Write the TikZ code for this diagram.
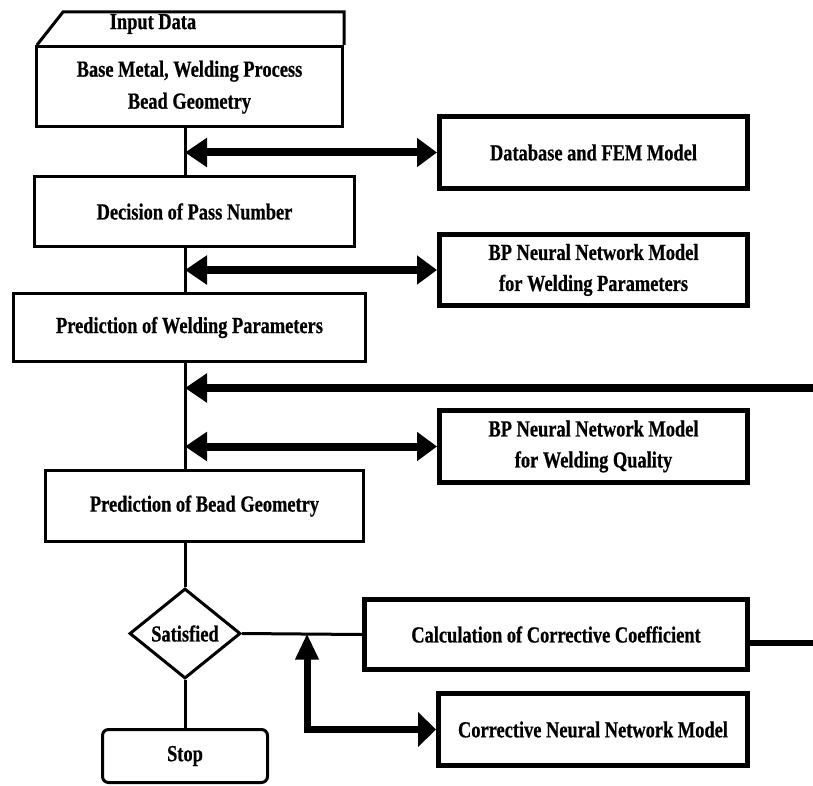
\documentclass[tikz,border=0pt]{standalone}
\usepackage{fontspec}
\setmainfont{Liberation Serif}[FakeStretch=0.8, BoldFeatures={FakeBold=0.6}]
\usetikzlibrary{shapes.geometric,arrows.meta}
\begin{document}
\begin{tikzpicture}[x=1pt,y=-1pt,
  txt/.style={font=\bfseries\fontsize{23}{31}\selectfont, align=center},
  flow/.style={draw, line width=3pt, rectangle, inner sep=0pt, txt},
  model/.style={draw, line width=5pt, rectangle, inner sep=0pt, txt},
  conn/.style={line width=3pt},
  dbl/.style={line width=8pt, {Triangle[length=22pt,width=28pt]}-{Triangle[length=20pt,width=28pt]}},
  fb/.style={line width=8pt, -{Triangle[length=22pt,width=28pt]}},
]
\useasboundingbox (0,0) rectangle (813,786);
\coordinate (spine) at (185,0);
\coordinate (fbR) at (813,388);
\coordinate (calcR) at (813,643);
\coordinate (junc) at (307,0);

% Input data card
\draw[line width=3pt, line join=miter] (37,45) -- (63,12) -- (344,12) -- (344,45);
\node[txt, inner sep=0pt] (inp) at (153,24) {Input Data};

% main flow
\node[flow, minimum width=306pt, minimum height=80pt] (base) at (189.5,86.5)
  {\raisebox{-4pt}{\begin{tabular}{@{}c@{}}Base Metal, Welding Process\\[1pt]Bead Geometry\end{tabular}}};
\node[flow, minimum width=320pt, minimum height=70pt] (dec) at (194.5,211.5) {Decision of Pass Number};
\node[flow, minimum width=352pt, minimum height=68pt] (pwp) at (189.5,327.5) {Prediction of Welding Parameters};
\node[flow, minimum width=318pt, minimum height=71pt] (pbg) at (204.5,506) {Prediction of Bead Geometry};
\node[draw, diamond, line width=3pt, inner sep=0pt, minimum width=111pt, minimum height=90pt, txt] (sat) at (185,633.5) {Satisfied};
\node[flow, rounded corners=6pt, minimum width=165pt, minimum height=53pt] (stop) at (185,756) {Stop};

% models
\node[model, minimum width=308pt, minimum height=72pt] (db) at (593.5,152.5) {Database and FEM Model};
\node[model, minimum width=308pt, minimum height=71pt] (bpwp) at (593.5,270) {BP Neural Network Model\\for Welding Parameters};
\node[model, minimum width=308pt, minimum height=72pt] (bpwq) at (593.5,446.5) {BP Neural Network Model\\for Welding Quality};
\node[model, minimum width=383pt, minimum height=70pt] (calc) at (556,634.5) {Calculation of Corrective Coefficient};
\node[model, minimum width=309pt, minimum height=72pt] (corr) at (593,729.5) {Corrective Neural Network Model};

% connectors
\draw[conn] (base.south -| spine) -- (dec.north -| spine);
\draw[conn] (dec.south -| spine) -- (pwp.north -| spine);
\draw[conn] (pwp.south -| spine) -- (pbg.north -| spine);
\draw[conn] (pbg.south -| spine) -- (sat.north);
\draw[conn] (sat.south) -- (stop.north);
\draw[conn] (sat.east) -- (calc.west);

\draw[dbl] (spine |- db.west) -- (db.west);
\draw[dbl] (spine |- bpwp.west) -- (bpwp.west);
\draw[dbl] (spine |- bpwq.west) -- (bpwq.west);
\draw[fb] (fbR) -- (spine |- fbR);
\draw[line width=6pt] (calc.east |- calcR) -- (calcR);
\draw[line width=7pt, line join=miter, {Triangle[length=26pt,width=22pt]}-{Triangle[length=18pt,width=34pt]}]
  (junc |- sat.east) |- (corr.west);
\end{tikzpicture}
\end{document}
